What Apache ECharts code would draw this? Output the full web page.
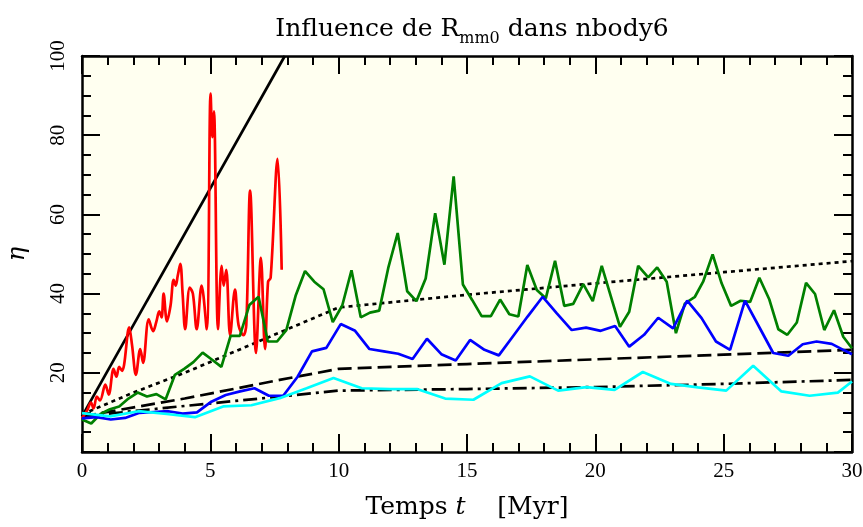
<!DOCTYPE html>
<html>
<head>
<meta charset="utf-8">
<script src="https://cdn.jsdelivr.net/npm/echarts@6/dist/echarts.min.js"></script>
<style>html,body{margin:0;padding:0;background:#fff}#c{width:863px;height:527px}</style>
</head>
<body>
<div id="c"></div>
<script>
// ---- data ----
const xTicks = [0, 5, 10, 15, 20, 25, 30];
const yTicks = [20, 40, 60, 80, 100];

const redT   = [0,0.2,0.35,0.45,0.58,0.7,0.91,1.04,1.23,1.34,1.45,1.56,1.64,1.84,1.95,2.1,2.27,2.38,2.6,2.77,2.9,3.01,3.1,3.18,3.31,3.45,3.57,3.65,3.73,3.83,3.92,4.02,4.2,4.32,4.47,4.66,4.86,5.01,5.08,5.14,5.3,5.44,5.52,5.62,5.77,5.96,6.1,6.29,6.4,6.55,6.78,6.97,7.13,7.25,7.35,7.62,7.78];
const redEta = [8.5,10.5,12.5,11,14,13,17,14.5,21,19,21.5,20.5,22,31.5,27,19.5,26,22.5,33.5,30.5,33,35.5,34,40,33,37,43.5,42,44.5,47.5,40,31,41.5,40,31,42,31,90.5,79.5,86,31,47,42,46,29.5,41,32,29.5,32,66,25,49,26,43,44,74,46];

const greenT   = [0,0.36,0.72,1.09,1.45,1.81,2.17,2.53,2.9,3.26,3.62,3.98,4.34,4.7,5.07,5.43,5.79,6.15,6.52,6.88,7.24,7.6,7.96,8.33,8.69,9.05,9.41,9.77,10.14,10.5,10.86,11.22,11.58,11.94,12.3,12.67,13.03,13.39,13.76,14.12,14.48,14.84,15.2,15.57,15.93,16.29,16.65,17.0,17.35,17.72,18.07,18.43,18.79,19.14,19.53,19.9,20.25,20.61,20.96,21.32,21.67,22.06,22.41,22.78,23.14,23.49,23.88,24.2,24.57,24.92,25.29,25.66,26.03,26.39,26.78,27.13,27.48,27.85,28.21,28.56,28.92,29.3,29.66,30];
const greenEta = [8.2,7.2,9.6,10.8,11.5,13.5,15,14,14.6,13.3,19.5,21,22.7,25.1,23.3,21.5,29.3,29.3,37.1,39.2,27.9,27.9,30.8,39.6,45.7,43,41.1,32.8,37,45.9,34,35.2,35.7,46.7,55.3,40.6,38.1,43.8,60.3,47.3,69.6,42.3,38.4,34.3,34.3,38.5,34.8,34.2,47.2,40.9,38.8,48.3,36.9,37.4,42.4,38.1,47,39.2,31.6,35.4,47,44.1,46.6,43,30,37.5,39.2,43,49.9,42.6,36.9,38.2,37.9,44,38.5,31,29.6,32.7,42.7,39.9,30.8,35.8,29.1,26.2];

const blueT   = [0,0.56,1.12,1.68,2.24,2.8,3.36,3.92,4.48,5.04,5.6,6.16,6.72,7.28,7.84,8.4,8.96,9.52,10.08,10.64,11.2,11.76,12.32,12.88,13.44,14.0,14.56,15.12,15.68,16.24,16.8,17.36,17.95,18.5,19.08,19.64,20.21,20.77,21.32,21.9,22.45,23.03,23.58,24.14,24.7,25.25,25.83,26.39,26.93,27.52,28.08,28.62,29.21,29.66,30];
const blueEta = [8.5,8.8,8.2,8.6,9.9,10.1,10.3,9.7,10,12.7,14.4,15.3,16.1,14.2,14.2,19,25.4,26.3,32.3,30.6,26,25.4,24.8,23.5,28.6,24.7,23.1,28.3,25.8,24.4,29.3,34.2,39.2,35,30.8,31.4,30.6,31.8,26.6,29.6,33.9,31.2,38.2,33.8,27.9,25.8,38.2,31.5,25,24.3,27.2,27.9,27.3,25.8,24.7];

const cyanT   = [0,1.1,2.2,3.3,4.4,5.5,6.6,7.7,8.75,9.8,10.9,12.0,13.05,14.15,15.25,16.35,17.45,18.55,19.65,20.75,21.85,22.95,24.0,25.1,26.15,27.25,28.35,29.45,30];
const cyanEta = [9.8,9,10.3,9.6,8.8,11.5,11.8,13.6,16.1,18.7,16.1,15.9,15.9,13.5,13.2,17.4,19.1,15.5,16.4,15.7,20.2,17.2,16.3,15.5,21.8,15.3,14.2,15,17.8];

const solidT = [0, 7.9];        const solidEta = [9, 100];
const dotT   = [0, 2, 4, 6, 8, 10, 15, 20, 25, 30];
const dotEta = [9.5, 15, 20, 25.5, 31, 36.5, 39.7, 42.6, 45.4, 48.2];
const dashT  = [0, 4, 7.7, 10, 15, 20, 25, 30];
const dashEta= [9, 13.5, 18.2, 21, 22.2, 23.4, 24.6, 25.8];
const ddT    = [0, 3.8, 7.7, 10, 15, 20, 25, 30];
const ddEta  = [9, 11.5, 14, 15.5, 15.9, 16.4, 17.2, 18.2];

function pairs(t, v) { return t.map((x, i) => [x, v[i]]); }

const FONT = 'Liberation Serif';
const TFONT = 'DejaVu Serif';
const chart = echarts.init(document.getElementById('c'), null, {renderer: 'canvas'});

function xAx(pos, showLabel) {
  return {
    type: 'value', position: pos, min: 0, max: 30, interval: 5,
    axisLine: {show: true, onZero: false, lineStyle: {color: '#000', width: 2.5}},
    axisTick: {show: true, inside: true, length: 18, lineStyle: {color: '#000', width: 2}},
    minorTick: {show: true, splitNumber: 5, length: 9, lineStyle: {color: '#000', width: 2}},
    splitLine: {show: false},
    axisLabel: {show: showLabel, color: '#000', fontFamily: FONT, fontSize: 21, margin: 9,
      formatter: v => xTicks.includes(v) ? String(v) : ''},
    name: showLabel ? '{n|Temps }{i|t}{n|    [Myr]}' : '',
    nameLocation: 'middle', nameGap: 43,
    nameTextStyle: {rich: {
      n: {fontFamily: TFONT, fontSize: 25, color: '#000'},
      i: {fontFamily: TFONT, fontSize: 25, fontStyle: 'italic', color: '#000'}}}
  };
}
function yAx(pos, showLabel) {
  return {
    type: 'value', position: pos, min: 0, max: 100, interval: 20,
    axisLine: {show: true, onZero: false, lineStyle: {color: '#000', width: 2.5}},
    axisTick: {show: true, inside: true, length: 18, lineStyle: {color: '#000', width: 2}},
    minorTick: {show: true, splitNumber: 4, length: 9, lineStyle: {color: '#000', width: 2}},
    splitLine: {show: false},
    axisLabel: {show: showLabel, rotate: 90, color: '#000', fontFamily: FONT, fontSize: 21, margin: 13,
      formatter: v => yTicks.includes(v) ? String(v) : ''},
    name: showLabel ? 'η' : '',
    nameLocation: 'middle', nameGap: 52, nameRotate: 90,
    nameTextStyle: {fontFamily: TFONT, fontSize: 24, fontStyle: 'italic', color: '#000'}
  };
}

function lineSeries(name, t, v, color, type, z, smooth) {
  return {
    name, type: 'line', data: pairs(t, v), showSymbol: false, symbol: 'none',
    smooth: smooth || false, z: z, clip: true,
    lineStyle: {color: color, width: 2.7, type: type || 'solid', cap: 'butt'},
    emphasis: {disabled: true}
  };
}

chart.setOption({
  animation: false,
  backgroundColor: '#ffffff',
  title: {
    text: '{a|Influence de R}{s|mm0}{a| dans nbody6}',
    left: 467, textAlign: 'center', top: 5,
    textStyle: {fontWeight: 'normal', rich: {
      a: {fontFamily: TFONT, fontSize: 25, fontWeight: 'normal', color: '#000', verticalAlign: 'bottom', lineHeight: 32},
      s: {fontFamily: TFONT, fontSize: 16, fontWeight: 'normal', color: '#000', verticalAlign: 'bottom', lineHeight: 32, padding: [0, 0, -5, 0]}
    }}
  },
  grid: {left: 82, right: 11, top: 56, bottom: 75, show: true, backgroundColor: '#fffff0', borderWidth: 0,
         containLabel: false, outerBoundsMode: 'none'},
  xAxis: [xAx('bottom', true), xAx('top', false)],
  yAxis: [yAx('left', true), yAx('right', false)],
  series: [
    lineSeries('solid', solidT, solidEta, '#000', 'solid', 2),
    lineSeries('dotted', dotT, dotEta, '#000', [4, 4], 2),
    lineSeries('dashed', dashT, dashEta, '#000', [14, 6], 2),
    lineSeries('dashdot', ddT, ddEta, '#000', [14, 5, 3, 5], 2),
    lineSeries('red', redT, redEta, '#ff0000', 'solid', 3, 0.35),
    lineSeries('green', greenT, greenEta, '#008000', 'solid', 3),
    lineSeries('blue', blueT, blueEta, '#0000ff', 'solid', 3),
    lineSeries('cyan', cyanT, cyanEta, '#00ffff', 'solid', 3)
  ]
});
</script>
</body>
</html>
